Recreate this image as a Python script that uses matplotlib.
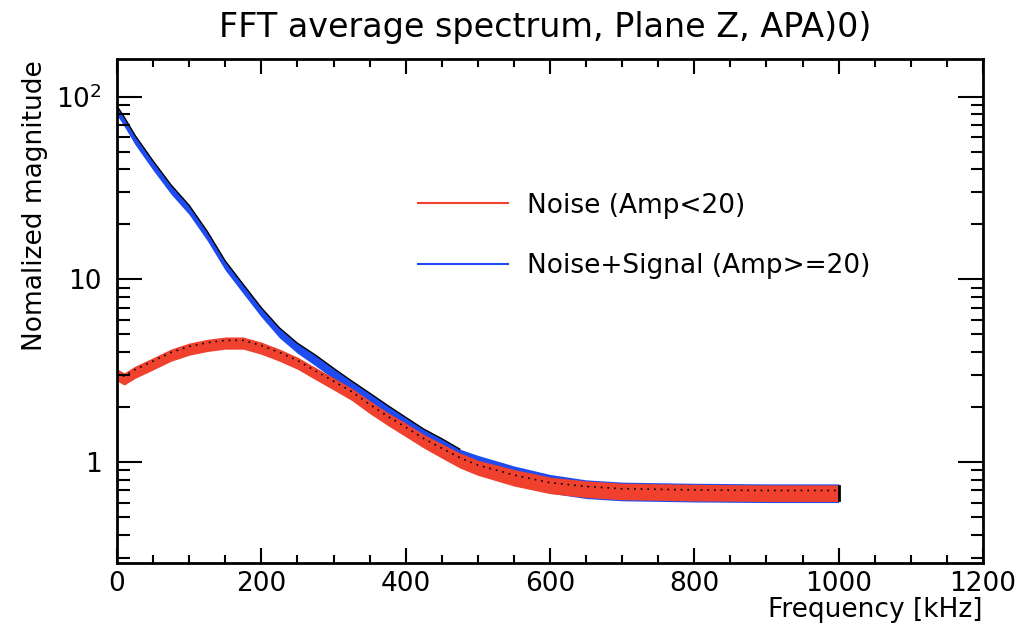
import matplotlib
matplotlib.use("Agg")
import matplotlib.pyplot as plt
from matplotlib.lines import Line2D
from matplotlib.ticker import FixedLocator, MultipleLocator, LogLocator, NullFormatter
import numpy as np

plt.rcParams['font.family'] = ['DejaVu Sans']

# frequency points (kHz)
freq = [0, 10, 25, 50, 75, 100, 125, 150, 175, 200, 225, 250, 275, 300, 325,
        350, 375, 400, 425, 450, 475, 500, 550, 600, 650, 700, 800, 900, 1000]

# Noise (Amp<20)
noise = [3.0, 2.85, 3.1, 3.45, 3.85, 4.15, 4.35, 4.48, 4.48, 4.2, 3.85, 3.48, 3.05, 2.68, 2.35,
         2.0, 1.72, 1.5, 1.3, 1.15, 1.02, 0.93, 0.82, 0.745, 0.71, 0.69, 0.68, 0.675, 0.675]
# Noise+Signal (Amp>=20)
signal = [84, 73, 58, 42, 31, 24, 17.3, 11.9, 8.85, 6.6, 5.1, 4.2, 3.6, 3.05, 2.6,
          2.22, 1.89, 1.62, 1.39, 1.22, 1.07, 0.98, 0.85, 0.76, 0.71, 0.69, 0.68, 0.675, 0.675]

# relative half-width of each band (spread of the bins)
noise_spread = [0.08, 0.08, 0.08, 0.08, 0.08, 0.08, 0.08, 0.08, 0.08, 0.08, 0.08, 0.08, 0.08, 0.08, 0.08,
                0.085, 0.085, 0.09, 0.09, 0.095, 0.1, 0.1, 0.11, 0.11, 0.11, 0.11, 0.11, 0.11, 0.11]
signal_spread = [0.06, 0.06, 0.06, 0.06, 0.06, 0.06, 0.06, 0.06, 0.06, 0.06, 0.065, 0.065, 0.07, 0.07, 0.07,
                 0.075, 0.08, 0.085, 0.09, 0.1, 0.1, 0.11, 0.12, 0.125, 0.125, 0.125, 0.125, 0.125, 0.125]

x_ticks = [0, 200, 400, 600, 800, 1000, 1200]
y_ticks = [1, 10, 100]
y_ticklabels = ['1', '10', '$10^{2}$']

red = '#f0412f'
blue = '#1f4cf0'

freq = np.array(freq)
noise = np.array(noise)
signal = np.array(signal)
ns = 1 + np.array(noise_spread)
ss = 1 + np.array(signal_spread)

fig = plt.figure(figsize=(10.19, 6.32), dpi=100)
ax = fig.add_axes([117/1019, 69/632, 866/1019, 504/632])

# noise+signal band with its dark upper edge
ax.fill_between(freq, signal/ss, signal*ss, color=blue, lw=0)
ax.plot(freq[:21], signal[:21]*ss[:21], color='k', lw=1.0)
# noise band
ax.fill_between(freq, noise/ns, noise*ns, color=red, lw=0)
ax.plot(freq, noise*1.035, color='k', lw=1.2, ls=(0, (1, 3)))
ax.plot([1000, 1000], [0.62, 0.74], color='k', lw=2)

ax.set_yscale('log')
ax.set_xlim(0, 1200)
ax.set_ylim(0.28, 161)

ax.set_xticks(x_ticks)
ax.xaxis.set_minor_locator(MultipleLocator(50))
ax.yaxis.set_major_locator(FixedLocator(y_ticks))
ax.set_yticklabels(y_ticklabels)
ax.yaxis.set_minor_locator(LogLocator(base=10, subs=np.arange(2, 10)))
ax.yaxis.set_minor_formatter(NullFormatter())

ax.tick_params(axis='both', which='both', direction='in', top=True, right=True,
               labelsize=19, width=1.5)
ax.tick_params(axis='x', which='major', length=11, pad=6)
ax.tick_params(axis='x', which='minor', length=5.5)
ax.tick_params(axis='y', which='major', length=18, pad=11)
ax.tick_params(axis='y', which='minor', length=9)
for s in ax.spines.values():
    s.set_linewidth(2)

handles = [Line2D([], [], color=red, lw=1.5), Line2D([], [], color=blue, lw=1.5)]
ax.legend(handles, ['Noise (Amp<20)', 'Noise+Signal (Amp>=20)'], loc='upper left',
          bbox_to_anchor=(0.32, 0.782), frameon=False, fontsize=19,
          handlelength=3.4, handletextpad=0.75, labelspacing=1.3)

fig.text(0.535, 0.957, 'FFT average spectrum, Plane Z, APA)0)', ha='center', va='center', fontsize=24)
fig.text(983/1019, 0.035, 'Frequency [kHz]', ha='right', va='center', fontsize=19)
fig.text(0.034, 0.905, 'Nomalized magnitude', ha='center', va='top', rotation=90, fontsize=19)

fig.savefig('out.png', dpi=100)
